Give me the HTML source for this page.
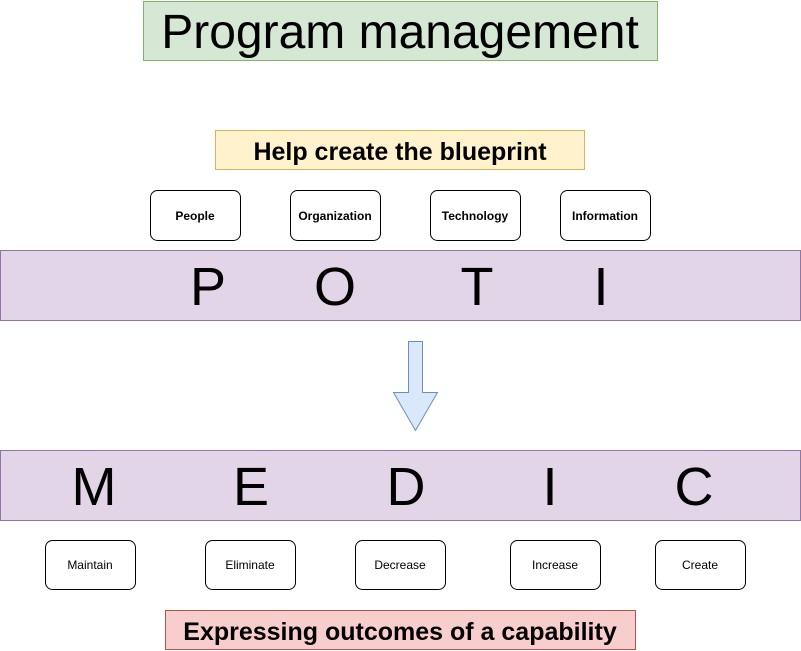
<!DOCTYPE html>
<html><head><meta charset="utf-8"><style>
html,body{margin:0;padding:0;background:#fff;width:801px;height:651px;overflow:hidden}
svg{display:block}
text{font-family:"Liberation Sans",Arial,sans-serif}
</style></head><body>
<svg width="801" height="651" viewBox="0 0 801 651" xmlns="http://www.w3.org/2000/svg">
<rect x="143.5" y="1.5" width="514" height="59" fill="#d5e8d4" stroke="#82b366"/>
<text x="400" y="48" font-size="48" text-anchor="middle">Program management</text>
<rect x="215.5" y="130.5" width="369" height="39" fill="#fff2cc" stroke="#d6b656"/>
<text x="400" y="160" font-size="25" font-weight="bold" text-anchor="middle">Help create the blueprint</text>
<g fill="#fff" stroke="#000">
<rect x="150.5" y="190.5" width="90" height="50" rx="7"/>
<rect x="290.5" y="190.5" width="90" height="50" rx="7"/>
<rect x="430.5" y="190.5" width="90" height="50" rx="7"/>
<rect x="560.5" y="190.5" width="90" height="50" rx="7"/>
</g>
<g font-size="12" font-weight="bold" text-anchor="middle">
<text x="195" y="220">People</text>
<text x="335" y="220">Organization</text>
<text x="475" y="220">Technology</text>
<text x="605" y="220">Information</text>
</g>
<rect x="0.5" y="250.5" width="800" height="70" fill="#e1d5e7" stroke="#9673a6"/>
<g font-size="54" text-anchor="middle">
<text x="208" y="305">P</text>
<text x="335" y="305">O</text>
<text x="477" y="305">T</text>
<text x="601" y="305">I</text>
</g>
<polygon points="408.5,341.5 422.5,341.5 422.5,392.5 437.5,392.5 415.5,430.5 393.5,392.5 408.5,392.5" fill="#dae8fc" stroke="#6c8ebf"/>
<rect x="0.5" y="450.5" width="800" height="70" fill="#e1d5e7" stroke="#9673a6"/>
<g font-size="54" text-anchor="middle">
<text x="94" y="505">M</text>
<text x="251" y="505">E</text>
<text x="406" y="505">D</text>
<text x="550" y="505">I</text>
<text x="694" y="505">C</text>
</g>
<g fill="#fff" stroke="#000">
<rect x="45.5" y="540.5" width="90" height="49" rx="7"/>
<rect x="205.5" y="540.5" width="90" height="49" rx="7"/>
<rect x="355.5" y="540.5" width="90" height="49" rx="7"/>
<rect x="510.5" y="540.5" width="90" height="49" rx="7"/>
<rect x="655.5" y="540.5" width="90" height="49" rx="7"/>
</g>
<g font-size="12" text-anchor="middle">
<text x="90" y="569">Maintain</text>
<text x="250" y="569">Eliminate</text>
<text x="400" y="569">Decrease</text>
<text x="555" y="569">Increase</text>
<text x="700" y="569">Create</text>
</g>
<rect x="165.5" y="610.5" width="470" height="39" fill="#f8cecc" stroke="#b85450"/>
<text x="400" y="640" font-size="25" font-weight="bold" text-anchor="middle">Expressing outcomes of a capability</text>
</svg>
</body></html>
